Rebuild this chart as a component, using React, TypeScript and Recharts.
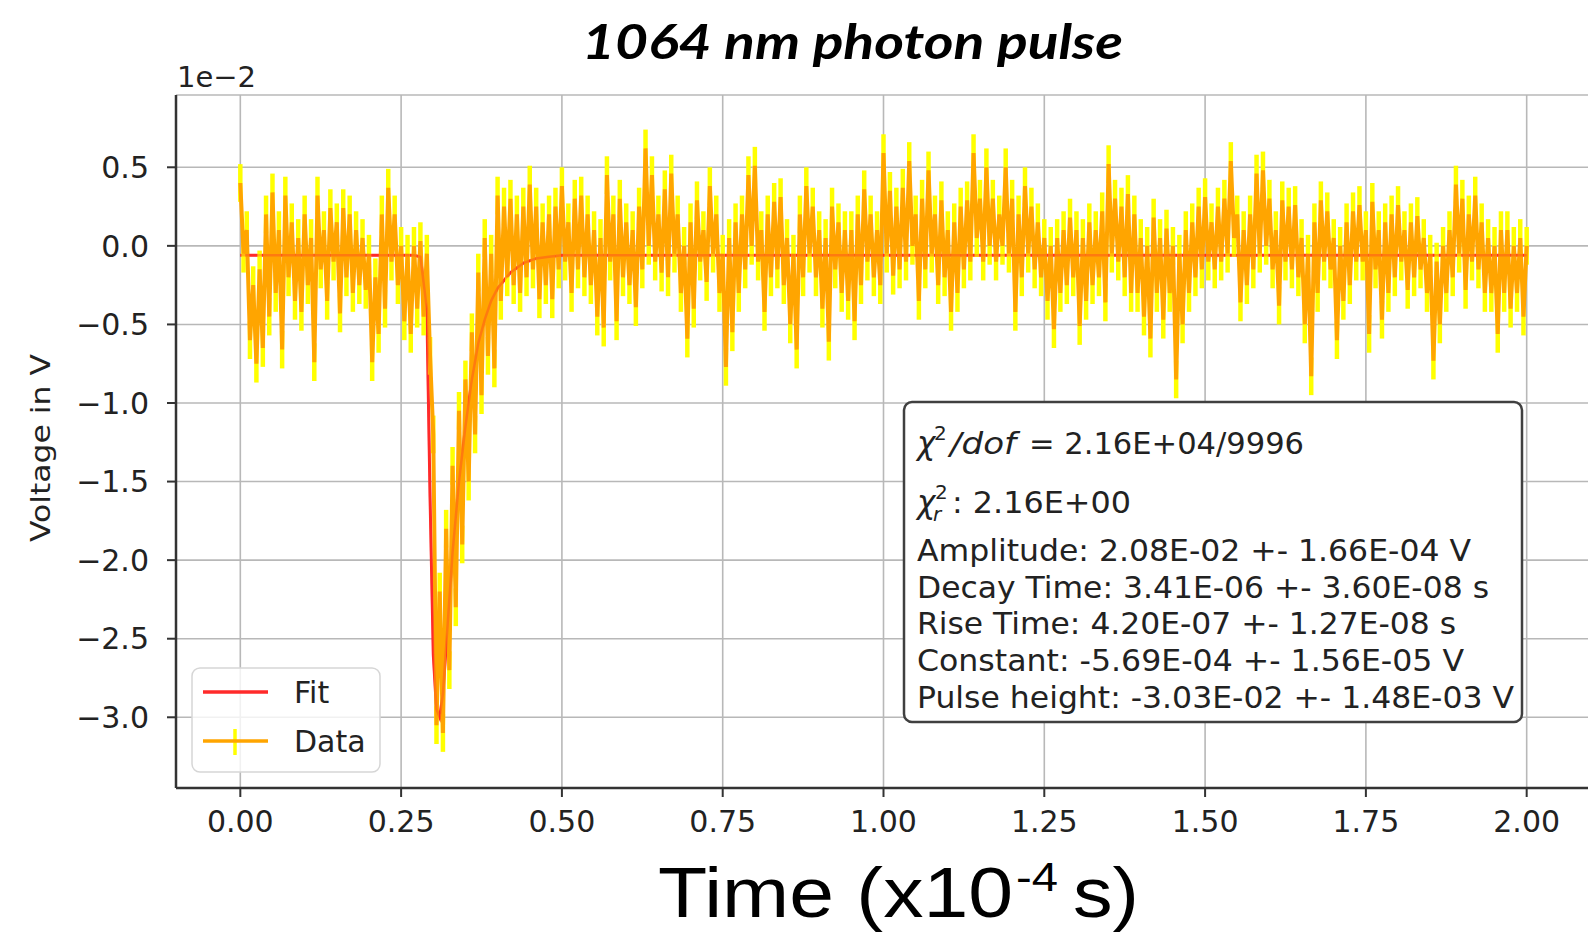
import { LineChart, Line, XAxis, YAxis, CartesianGrid, ErrorBar } from "recharts";

// Eixos
const X_TICKS = [0, 0.25, 0.5, 0.75, 1.0, 1.25, 1.5, 1.75, 2.0];
const Y_TICKS = [-3.0, -2.5, -2.0, -1.5, -1.0, -0.5, 0.0, 0.5];

// Sinal medido (unidades 1e-2 V), amostrado a cada 0.01 (x1e-4 s):
// picos em t = i*0.01, vales em t = i*0.01 + 0.005
const SAMPLE_STEP = 0.01;
const PEAKS = [
  0.40, 0.10, -0.25, -0.15, 0.20, 0.34, 0.10, 0.32, 0.15, 0.05,
  0.20, 0.05, 0.32, 0.10, 0.24, 0.15, 0.24, 0.20, 0.10, 0.05,
  -0.05, -0.20, 0.20, 0.37, 0.20, 0.00, -0.05, 0.00, 0.03, -0.05,
  -1.20, -2.20, -1.80, -1.40, -1.05, -0.85, -0.55, -0.17, 0.05, -0.05,
  0.32, 0.25, 0.30, 0.20, 0.25, 0.39, 0.25, 0.15, 0.20, 0.25,
  0.38, 0.15, 0.30, 0.32, 0.20, 0.10, 0.05, 0.45, 0.20, 0.30,
  0.15, 0.10, 0.25, 0.62, 0.45, 0.20, 0.36, 0.46, 0.20, 0.00,
  0.15, 0.29, 0.10, 0.38, 0.20, -0.05, 0.05, 0.15, 0.20, 0.45,
  0.51, 0.10, 0.20, 0.28, 0.31, 0.05, -0.05, 0.20, 0.38, 0.25,
  0.10, 0.05, 0.25, 0.15, 0.10, 0.10, 0.20, 0.36, 0.20, 0.10,
  0.59, 0.35, 0.25, 0.37, 0.54, 0.20, 0.30, 0.48, 0.20, 0.29,
  0.10, 0.15, 0.25, 0.29, 0.59, 0.30, 0.50, 0.30, 0.20, 0.50,
  0.30, 0.20, 0.38, 0.25, 0.15, 0.05, 0.00, 0.05, 0.10, 0.18,
  0.10, 0.05, 0.15, 0.10, 0.22, 0.52, 0.30, 0.25, 0.33, 0.20,
  0.05, 0.00, 0.18, 0.05, 0.11, 0.00, -0.05, 0.10, 0.15, 0.25,
  0.31, 0.15, 0.25, 0.30, 0.54, 0.20, 0.10, 0.20, 0.46, 0.48,
  0.30, 0.10, 0.29, 0.25, 0.26, 0.05, -0.05, 0.15, 0.29, 0.22,
  0.05, 0.00, 0.15, 0.22, 0.26, 0.10, 0.28, 0.10, 0.15, 0.20,
  0.26, 0.10, 0.15, 0.19, 0.05, -0.05, -0.10, 0.00, 0.10, 0.39,
  0.30, 0.20, 0.32, 0.15, 0.05, 0.00, 0.10, 0.10, 0.00, 0.05,
  0.00,
];
const TROUGHS = [
  -0.05, -0.60, -0.75, -0.65, -0.45, -0.30, -0.66, -0.20, -0.35, -0.42,
  -0.25, -0.74, -0.15, -0.35, -0.10, -0.43, -0.20, -0.30, -0.25, -0.28,
  -0.74, -0.56, -0.40, -0.10, -0.25, -0.48, -0.56, -0.40, -0.45, -0.70,
  -3.05, -3.10, -2.70, -2.30, -1.90, -1.50, -1.20, -0.95, -0.70, -0.78,
  -0.35, -0.20, -0.25, -0.30, -0.20, -0.15, -0.34, -0.25, -0.34, -0.15,
  -0.10, -0.30, -0.15, -0.20, -0.25, -0.45, -0.52, -0.10, -0.48, -0.20,
  -0.25, -0.39, -0.15, 0.00, -0.10, -0.17, -0.20, -0.05, -0.30, -0.59,
  -0.40, -0.10, -0.23, -0.05, -0.30, -0.77, -0.55, -0.30, -0.15, 0.00,
  -0.10, -0.42, -0.20, -0.15, -0.25, -0.50, -0.66, -0.20, -0.05, -0.20,
  -0.40, -0.61, -0.15, -0.30, -0.35, -0.48, -0.25, -0.10, -0.20, -0.25,
  -0.05, -0.19, -0.15, -0.10, 0.00, -0.35, -0.15, -0.05, -0.25, -0.20,
  -0.42, -0.30, -0.15, -0.10, 0.05, -0.10, 0.00, -0.10, 0.00, -0.05,
  -0.42, -0.20, -0.05, -0.15, -0.20, -0.35, -0.53, -0.30, -0.25, -0.20,
  -0.51, -0.35, -0.25, -0.20, -0.36, -0.05, -0.10, -0.20, -0.30, -0.30,
  -0.45, -0.59, -0.30, -0.47, -0.30, -0.85, -0.50, -0.30, -0.20, -0.15,
  -0.10, -0.15, -0.10, -0.05, 0.05, -0.36, -0.25, -0.15, -0.05, 0.00,
  -0.15, -0.38, -0.10, -0.15, -0.20, -0.50, -0.83, -0.30, -0.10, -0.15,
  -0.60, -0.35, -0.25, -0.10, -0.10, -0.56, -0.15, -0.47, -0.30, -0.20,
  -0.10, -0.28, -0.20, -0.15, -0.30, -0.73, -0.50, -0.30, -0.20, -0.05,
  -0.28, -0.10, -0.15, -0.30, -0.30, -0.56, -0.30, -0.40, -0.30, -0.45,
];
const DATA_ERR = 0.12;

// Curva de ajuste
const FIT_T = [0, 0.27, 0.28, 0.29, 0.295, 0.30, 0.305, 0.31, 0.315, 0.32, 0.33, 0.34, 0.35,
  0.36, 0.37, 0.38, 0.39, 0.40, 0.42, 0.44, 0.46, 0.48, 0.50, 2.0];
const FIT_V = [-0.06, -0.06, -0.07, -0.40, -1.60, -2.60, -2.95, -3.00, -2.85, -2.55, -1.95, -1.50, -1.15,
  -0.85, -0.62, -0.47, -0.35, -0.27, -0.17, -0.11, -0.08, -0.07, -0.06, -0.06];

// Caixa de resultados
const STATS = [
  "Amplitude: 2.08E-02 +- 1.66E-04 V",
  "Decay Time: 3.41E-06 +- 3.60E-08 s",
  "Rise Time: 4.20E-07 +- 1.27E-08 s",
  "Constant: -5.69E-04 +- 1.56E-05 V",
  "Pulse height: -3.03E-02 +- 1.48E-03 V",
];
const STATS_WIDTH = [554, 572, 539, 547, 597];
const STATS_BASE = [561, 598, 634, 671, 708];

const dataSerie: { t: number; v: number; err: number }[] = [];
PEAKS.forEach((p, i) => {
  dataSerie.push({ t: i * SAMPLE_STEP, v: p, err: DATA_ERR });
  if (i < TROUGHS.length) dataSerie.push({ t: i * SAMPLE_STEP + SAMPLE_STEP / 2, v: TROUGHS[i], err: DATA_ERR });
});
const fitSerie = FIT_T.map((t, i) => ({ t, v: FIT_V[i] }));

const TICK_FONT = { fontSize: 30, fill: "#222", fontFamily: "DejaVu Sans" };
const fmtY = (v: number) => (v < 0 ? "\u2212" : "") + Math.abs(v).toFixed(1);

export default function App() {
  return (
    <div style={{ position: "absolute", left: 0, top: 0, width: 1588, height: 939, overflow: "hidden", background: "#fff" }}>
      <LineChart width={1600} height={939} margin={{ top: 95, right: 9, bottom: 91, left: 116 }}>
        <CartesianGrid stroke="#b8b8b8" strokeWidth={1.6} />
        <XAxis
          dataKey="t" type="number" domain={[-0.1, 2.1]} ticks={X_TICKS} allowDataOverflow
          tickFormatter={(v: number) => v.toFixed(2)} tick={TICK_FONT} height={60}
          tickSize={9} tickMargin={14} stroke="#333" strokeWidth={2}
          axisLine={{ stroke: "#333", strokeWidth: 2.5 }} tickLine={{ stroke: "#333", strokeWidth: 2 }}
        />
        <XAxis xAxisId="top" orientation="top" type="number" domain={[-0.1, 2.1]} height={0}
          tick={false} tickLine={false} axisLine={{ stroke: "#333", strokeWidth: 2.5 }} />
        <YAxis
          type="number" domain={[-3.45, 0.96]} ticks={Y_TICKS} allowDataOverflow width={60}
          tickFormatter={fmtY} tick={TICK_FONT} tickSize={9} tickMargin={18}
          axisLine={{ stroke: "#333", strokeWidth: 2.5 }} tickLine={{ stroke: "#333", strokeWidth: 2 }}
        />
        <Line data={fitSerie} dataKey="v" stroke="#ff2a2a" strokeWidth={3} dot={false} isAnimationActive={false} />
        <Line data={dataSerie} dataKey="v" stroke="none" strokeWidth={0} dot={false} isAnimationActive={false}>
          <ErrorBar dataKey="err" width={0} stroke="#ffff00" strokeWidth={4.5} direction="y" isAnimationActive={false} />
        </Line>
        <Line data={dataSerie} dataKey="v" stroke="#ffa500" strokeWidth={4} strokeLinejoin="bevel"
          dot={false} isAnimationActive={false} />
        <Line data={fitSerie} dataKey="v" stroke="#ff2a2a" strokeWidth={2.5} strokeOpacity={0.35}
          dot={false} isAnimationActive={false} />
      </LineChart>

      <svg width={1588} height={939} style={{ position: "absolute", left: 0, top: 0, pointerEvents: "none" }}>
        {/* Título */}
        <text x={582} y={59} fontFamily="Lato" fontWeight={700} fontStyle="italic" fontSize={48}
          textLength={541} lengthAdjust="spacingAndGlyphs" fill="#000">1064 nm photon pulse</text>
        <text x={177} y={87} fontFamily="DejaVu Sans" fontSize={29} fill="#222">1e−2</text>

        {/* Rótulo do eixo Y */}
        <text transform="translate(50,448) rotate(-90)" textAnchor="middle" fontFamily="DejaVu Sans" fontSize={27}
          textLength={188} lengthAdjust="spacingAndGlyphs" fill="#222">Voltage in V</text>

        {/* Rótulo do eixo X */}
        <text x={658} y={917} fontFamily="Liberation Sans" fontSize={70} textLength={355}
          lengthAdjust="spacingAndGlyphs" fill="#000">Time (x10</text>
        <text x={1016} y={891} fontFamily="Liberation Sans" fontSize={40} textLength={42}
          lengthAdjust="spacingAndGlyphs" fill="#000">-4</text>
        <text x={1073} y={917} fontFamily="Liberation Sans" fontSize={70} textLength={66}
          lengthAdjust="spacingAndGlyphs" fill="#000">s)</text>

        {/* Legenda */}
        <rect x={192} y={668} width={188} height={104} rx={8} fill="#fff" fillOpacity={0.8} stroke="#d6d6d6" strokeWidth={1.5} />
        <line x1={203} y1={692} x2={268} y2={692} stroke="#ff2a2a" strokeWidth={3.5} />
        <text x={294} y={703} fontFamily="DejaVu Sans" fontSize={30} fill="#222">Fit</text>
        <line x1={235} y1={729} x2={235} y2={755} stroke="#ffff00" strokeWidth={3.5} />
        <line x1={203} y1={741} x2={268} y2={741} stroke="#ffa500" strokeWidth={3.5} />
        <text x={294} y={752} fontFamily="DejaVu Sans" fontSize={30} fill="#222">Data</text>

        {/* Caixa de estatísticas */}
        <rect x={904} y={402} width={618} height={320} rx={8} fill="#fff" stroke="#404040" strokeWidth={2.5} />
        <g fontFamily="DejaVu Sans" fontSize={31} fill="#222">
          <text x={917} y={454} fontStyle="italic">χ</text>
          <text x={934} y={440} fontSize={20}>2</text>
          <text x={950} y={454} fontStyle="italic" textLength={66} lengthAdjust="spacingAndGlyphs">/dof</text>
          <text x={1029} y={454} textLength={275} lengthAdjust="spacingAndGlyphs">= 2.16E+04/9996</text>
          <text x={917} y={513} fontStyle="italic">χ</text>
          <text x={935} y={499} fontSize={20}>2</text>
          <text x={933} y={521} fontSize={20} fontStyle="italic">r</text>
          <text x={952} y={513} textLength={179} lengthAdjust="spacingAndGlyphs">: 2.16E+00</text>
          {STATS.map((s, i) => (
            <text key={s} x={917} y={STATS_BASE[i]} textLength={STATS_WIDTH[i]} lengthAdjust="spacingAndGlyphs">{s}</text>
          ))}
        </g>
      </svg>
    </div>
  );
}
